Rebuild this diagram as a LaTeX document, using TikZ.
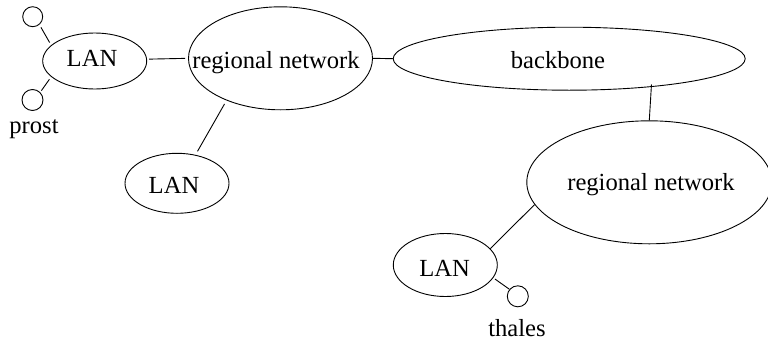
\documentclass[tikz,border=0pt]{standalone}
\usepackage{fontspec}
\setmainfont{Liberation Serif}
\usetikzlibrary{shapes.geometric}
\tikzset{
  net/.style={ellipse, draw, line width=0.9pt, inner sep=0pt},
  host/.style={circle, draw, line width=0.9pt, inner sep=0pt, minimum size=20pt},
  lbl/.style={anchor=base, inner sep=0pt, font=\fontsize{24.6}{29}\selectfont},
  link/.style={line width=0.9pt}
}
\begin{document}
\begin{tikzpicture}[x=1pt,y=-1pt]
  \useasboundingbox (0,0) rectangle (768,343);

  % networks
  \node[net, minimum width=104pt, minimum height=56pt]  (lan1) at (94.7,61)    {};
  \node[net, minimum width=184pt, minimum height=103pt] (rn1)  at (280.5,58.3) {};
  \node[net, minimum width=104pt, minimum height=60pt]  (lan2) at (177,183.3)  {};
  \node[net, minimum width=352pt, minimum height=63pt]  (bb)   at (569.2,58.7) {};
  \node[net, minimum width=245pt, minimum height=123pt] (rn2)  at (649.3,182.3) {};
  \node[net, minimum width=104pt, minimum height=63pt]  (lan3) at (445.3,265)  {};

  % hosts
  \node[host] (h1) at (32.7,16.7) {};
  \node[host, minimum size=21pt] (h2) at (32.5,100) {};
  \node[host, minimum size=21pt] (h3) at (517.8,296.3) {};

  % labels
  \node[lbl] (tlan1) at (92,66.7)    {LAN};
  \node[lbl] (trn1)  at (276,68.3)   {regional network};
  \node[lbl] (tlan2) at (174,193.3)  {LAN};
  \node[lbl] (tbb)   at (558,68.3)   {backbone};
  \node[lbl] (trn2)  at (651,190)    {regional network};
  \node[lbl] (tlan3) at (444.7,276)  {LAN};
  \node[lbl] (tprost)  at (34,133)    {prost};
  \node[lbl] (tthales) at (517,336.7) {thales};

  % links
  \draw[link, shorten <=3pt, shorten >=3pt] (h1.-50) -- (lan1.160);
  \draw[link, shorten <=3pt, shorten >=2pt] (lan1.200) -- (h2.45);
  \draw[link, shorten <=2pt, shorten >=3pt] (lan1.2) -- (rn1.180);
  \draw[link, shorten <=4pt, shorten >=4pt] (rn1.218) -- (lan2.57);
  \draw[link] (rn1.east) -- (bb.west);
  \draw[link, shorten <=-2.5pt] (bb.-19) -- (rn2.north);
  \draw[link] (rn2.191.5) -- (lan3.20);
  \draw[link, shorten <=2pt] (lan3.-15) -- (h3.140);
\end{tikzpicture}
\end{document}
